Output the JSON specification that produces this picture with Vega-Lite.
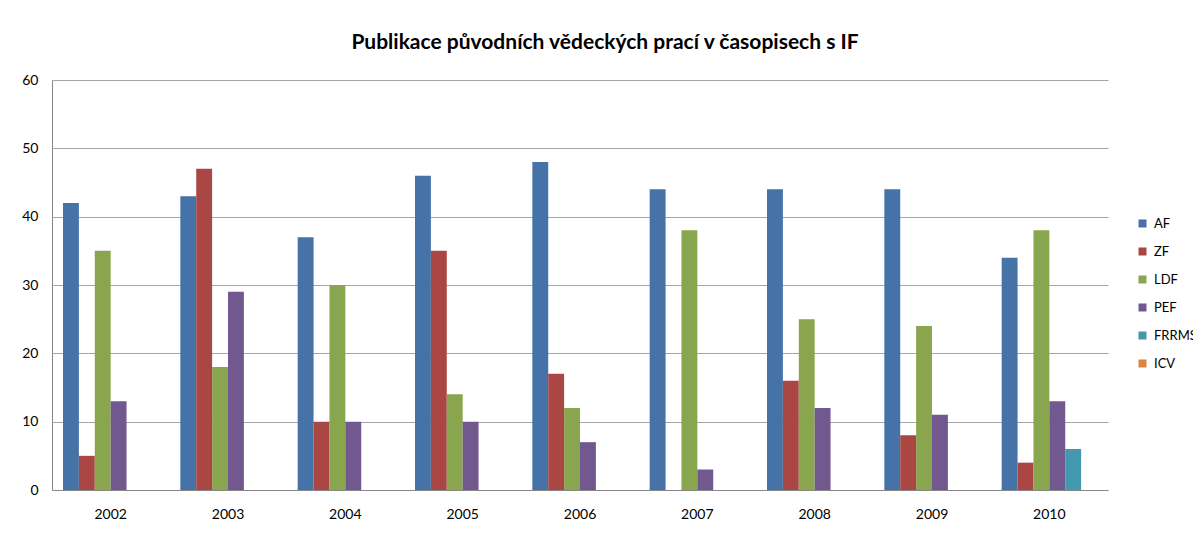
{
  "$schema": "https://vega.github.io/schema/vega-lite/v6.json",
  "width": 1056,
  "height": 410,
  "autosize": {"type": "none"},
  "padding": {"left": 52, "top": 80, "right": 85, "bottom": 44},
  "background": "white",
  "title": {
    "text": "Publikace původních vědeckých prací v časopisech s IF",
    "font": "Lato",
    "fontSize": 21,
    "fontWeight": "bold",
    "color": "#000000",
    "anchor": "middle",
    "dx": 25,
    "offset": 20
  },
  "data": {
    "values": [
      {"year": "2002", "fac": "AF", "value": 42},
      {"year": "2002", "fac": "ZF", "value": 5},
      {"year": "2002", "fac": "LDF", "value": 35},
      {"year": "2002", "fac": "PEF", "value": 13},
      {"year": "2003", "fac": "AF", "value": 43},
      {"year": "2003", "fac": "ZF", "value": 47},
      {"year": "2003", "fac": "LDF", "value": 18},
      {"year": "2003", "fac": "PEF", "value": 29},
      {"year": "2004", "fac": "AF", "value": 37},
      {"year": "2004", "fac": "ZF", "value": 10},
      {"year": "2004", "fac": "LDF", "value": 30},
      {"year": "2004", "fac": "PEF", "value": 10},
      {"year": "2005", "fac": "AF", "value": 46},
      {"year": "2005", "fac": "ZF", "value": 35},
      {"year": "2005", "fac": "LDF", "value": 14},
      {"year": "2005", "fac": "PEF", "value": 10},
      {"year": "2006", "fac": "AF", "value": 48},
      {"year": "2006", "fac": "ZF", "value": 17},
      {"year": "2006", "fac": "LDF", "value": 12},
      {"year": "2006", "fac": "PEF", "value": 7},
      {"year": "2007", "fac": "AF", "value": 44},
      {"year": "2007", "fac": "LDF", "value": 38},
      {"year": "2007", "fac": "PEF", "value": 3},
      {"year": "2008", "fac": "AF", "value": 44},
      {"year": "2008", "fac": "ZF", "value": 16},
      {"year": "2008", "fac": "LDF", "value": 25},
      {"year": "2008", "fac": "PEF", "value": 12},
      {"year": "2009", "fac": "AF", "value": 44},
      {"year": "2009", "fac": "ZF", "value": 8},
      {"year": "2009", "fac": "LDF", "value": 24},
      {"year": "2009", "fac": "PEF", "value": 11},
      {"year": "2010", "fac": "AF", "value": 34},
      {"year": "2010", "fac": "ZF", "value": 4},
      {"year": "2010", "fac": "LDF", "value": 38},
      {"year": "2010", "fac": "PEF", "value": 13},
      {"year": "2010", "fac": "FRRMS", "value": 6}
    ]
  },
  "mark": {"type": "bar"},
  "encoding": {
    "x": {
      "field": "year",
      "type": "nominal",
      "scale": {"paddingInner": 0.1875, "paddingOuter": 0.09375},
      "axis": {
        "title": null,
        "labelAngle": 0,
        "ticks": false,
        "domainColor": "#888888",
        "labelFont": "Lato",
        "labelFontSize": 14,
        "labelColor": "#000000",
        "labelPadding": 17
      }
    },
    "xOffset": {
      "field": "fac",
      "type": "nominal",
      "scale": {"domain": ["AF", "ZF", "LDF", "PEF", "FRRMS", "ICV"], "paddingInner": 0, "paddingOuter": 0}
    },
    "y": {
      "field": "value",
      "type": "quantitative",
      "scale": {"domain": [0, 60], "nice": false},
      "axis": {
        "title": null,
        "values": [0, 10, 20, 30, 40, 50, 60],
        "ticks": false,
        "grid": true,
        "gridColor": "#A6A6A6",
        "domainColor": "#888888",
        "labelFont": "Lato",
        "labelFontSize": 14,
        "labelColor": "#000000",
        "labelPadding": 14
      }
    },
    "color": {
      "field": "fac",
      "type": "nominal",
      "scale": {
        "domain": ["AF", "ZF", "LDF", "PEF", "FRRMS", "ICV"],
        "range": ["#4572A7", "#AA4643", "#89A54E", "#71588F", "#4198AF", "#DB843D"]
      },
      "legend": {
        "title": null,
        "orient": "none",
        "legendX": 1084,
        "legendY": 137,
        "symbolType": "square",
        "symbolSize": 64,
        "symbolStrokeWidth": 0,
        "labelFont": "Lato",
        "labelFontSize": 13,
        "labelColor": "#000000",
        "labelOffset": 5,
        "rowPadding": 14
      }
    }
  },
  "config": {
    "view": {"stroke": null}
  }
}
